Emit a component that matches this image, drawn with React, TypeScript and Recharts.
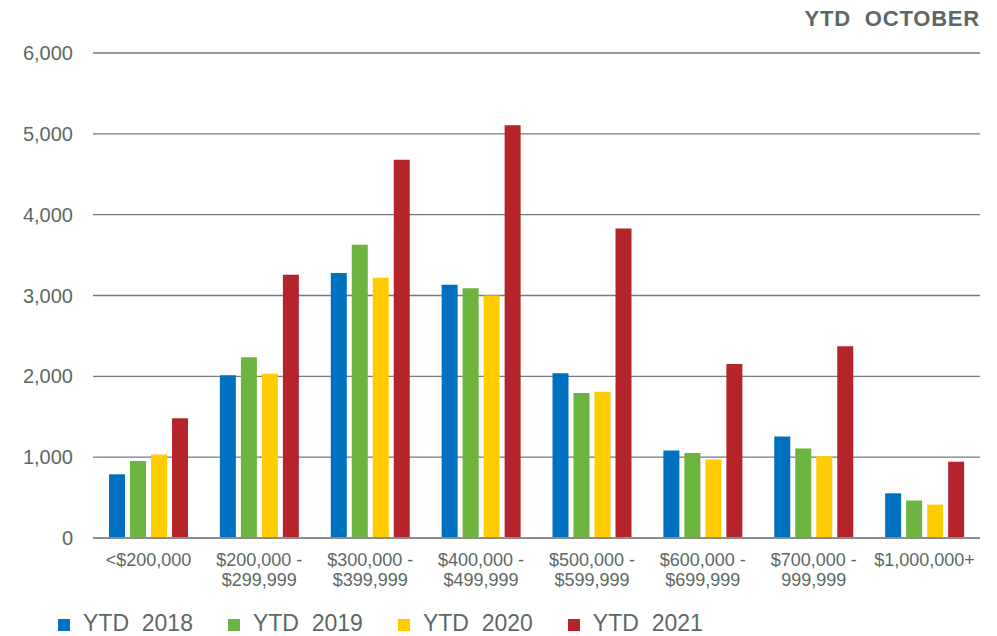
import { BarChart, Bar, XAxis, YAxis, CartesianGrid } from 'recharts';

const categories = [
  '<$200,000',
  '$200,000 -\n$299,999',
  '$300,000 -\n$399,999',
  '$400,000 -\n$499,999',
  '$500,000 -\n$599,999',
  '$600,000 -\n$699,999',
  '$700,000 -\n999,999',
  '$1,000,000+',
];

const ytd2018 = [788, 2012, 3277, 3133, 2037, 1083, 1257, 553];
const ytd2019 = [952, 2236, 3629, 3091, 1793, 1053, 1108, 463];
const ytd2020 = [1033, 2033, 3219, 3000, 1810, 971, 1012, 413];
const ytd2021 = [1482, 3257, 4679, 5107, 3830, 2153, 2373, 942];

const yTicks = [0, 1000, 2000, 3000, 4000, 5000, 6000];

const series = [
  { key: 'y2018', name: 'YTD  2018', color: '#0070c0' },
  { key: 'y2019', name: 'YTD  2019', color: '#6db33f' },
  { key: 'y2020', name: 'YTD  2020', color: '#ffcc00' },
  { key: 'y2021', name: 'YTD  2021', color: '#b5232b' },
];

const data = categories.map((c, i) => ({
  range: c,
  y2018: ytd2018[i],
  y2019: ytd2019[i],
  y2020: ytd2020[i],
  y2021: ytd2021[i],
}));

const textColor = '#5b6963';
const font = '"Liberation Sans", Arial, sans-serif';

// two-line category labels
const RangeTick = (props: any) => {
  const { x, y, payload } = props;
  const lines = String(payload.value).split('\n');
  return (
    <text x={x} y={y} textAnchor="middle" fill={textColor} fontSize={18} fontFamily={font}>
      {lines.map((l, i) => (
        <tspan key={i} x={x} dy={i === 0 ? 28 : 20}>{l}</tspan>
      ))}
    </text>
  );
};

export default function App() {
  return (
    <div style={{ position: 'absolute', left: 0, top: 0, width: 997, height: 636, background: '#fff', fontFamily: font }}>
      <div style={{ position: 'absolute', right: 17, top: 8, fontSize: 22, fontWeight: 'bold', color: textColor, whiteSpace: 'pre', letterSpacing: 0.8, lineHeight: '22px' }}>
        YTD  OCTOBER
      </div>
      <BarChart
        width={997}
        height={636}
        data={data}
        margin={{ top: 53, right: 17, left: 0, bottom: 38 }}
        barSize={16}
        barGap={5}
      >
        <CartesianGrid vertical={false} stroke="#6f7d78" strokeWidth={1.3} />
        <XAxis
          dataKey="range"
          height={60}
          interval={0}
          tickLine={false}
          tickSize={0}
          tickMargin={0}
          axisLine={{ stroke: '#8a8d8b', strokeWidth: 2 }}
          tick={<RangeTick />}
        />
        <YAxis
          width={93}
          domain={[0, 6000]}
          ticks={yTicks}
          axisLine={false}
          tickLine={false}
          tickSize={0}
          tickMargin={20}
          tick={{ fill: textColor, fontSize: 20, fontFamily: font }}
          tickFormatter={(v: number) => v.toLocaleString('en-US')}
        />
        {series.map((s) => (
          <Bar key={s.key} dataKey={s.key} name={s.name} fill={s.color} isAnimationActive={false} />
        ))}
      </BarChart>
      <div style={{ position: 'absolute', left: 58, top: 612, display: 'flex' }}>
        {series.map((s) => (
          <div key={s.key} style={{ display: 'flex', alignItems: 'center', marginRight: 35 }}>
            <span style={{ width: 12, height: 12, background: s.color, marginRight: 13, marginTop: 2 }} />
            <span style={{ fontSize: 23, lineHeight: '23px', color: textColor, whiteSpace: 'pre' }}>{s.name}</span>
          </div>
        ))}
      </div>
    </div>
  );
}
